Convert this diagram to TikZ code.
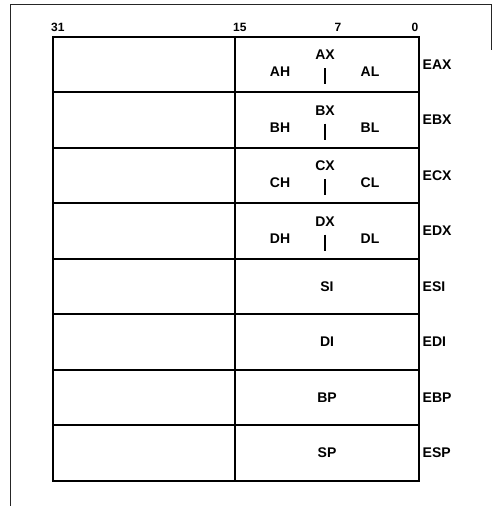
\documentclass[tikz,border=0pt]{standalone}
\usepackage{fontspec}
\setmainfont{Liberation Sans}
\usetikzlibrary{positioning}

\begin{document}
\begin{tikzpicture}[x=1pt, y=-1pt,
    hibox/.style={rectangle, draw, line width=2.4pt, outer sep=0pt, inner sep=0pt,
                  minimum width=182pt, minimum height=55.5pt},
    lobox/.style={hibox, minimum width=184pt},
    reg/.style={font=\fontsize{14}{16}\selectfont\bfseries, inner sep=0pt},
    bitno/.style={font=\fontsize{12}{14}\selectfont\bfseries, inner sep=0pt},
    split/.style={line width=1.6pt},
    frame/.style={line width=0.8pt, draw=black!85}
  ]
  \useasboundingbox (0,0) rectangle (492,506);

  % Page frame
  \coordinate (fbl) at (10,506);
  \coordinate (ftl) at (10,4);
  \coordinate (ftr) at (491,4);
  \coordinate (fr) at (491,50);
  \draw[frame] (fbl) -- (ftl) -- (ftr) -- (fr);

  % Register rows
  \node[hibox] (hiA) at (144,64.5) {};
  \node[lobox, right=0pt of hiA] (loA) {};
  \node[hibox, below=0pt of hiA] (hiB) {};
  \node[lobox, right=0pt of hiB] (loB) {};
  \node[hibox, below=0pt of hiB] (hiC) {};
  \node[lobox, right=0pt of hiC] (loC) {};
  \node[hibox, below=0pt of hiC] (hiD) {};
  \node[lobox, right=0pt of hiD] (loD) {};
  \node[hibox, below=0pt of hiD] (hiSI) {};
  \node[lobox, right=0pt of hiSI] (loSI) {};
  \node[hibox, below=0pt of hiSI] (hiDI) {};
  \node[lobox, right=0pt of hiDI] (loDI) {};
  \node[hibox, below=0pt of hiDI] (hiBP) {};
  \node[lobox, right=0pt of hiBP] (loBP) {};
  \node[hibox, below=0pt of hiBP] (hiSP) {};
  \node[lobox, right=0pt of hiSP] (loSP) {};

  % Bit positions
  \node[bitno, anchor=south west] (b31) at ([xshift=-2pt,yshift=5pt]hiA.north west) {31};
  \node[bitno, anchor=south west] (b15) at ([xshift=-2pt,yshift=5pt]loA.north west) {15};
  \node[bitno, anchor=south] (b7) at ([xshift=11pt,yshift=5pt]loA.north) {7};
  \node[bitno, anchor=south] (b0) at ([xshift=-4pt,yshift=5pt]loA.north east) {0};

  % 16-bit and 8-bit names
  \node[reg] (ax) at ([xshift=-2pt,yshift=9.5pt]loA.center) {AX};
  \node[reg] (ah) at ([xshift=-47pt,yshift=-7.5pt]loA.center) {AH};
  \node[reg] (al) at ([xshift=43pt,yshift=-7.5pt]loA.center) {AL};
  \draw[split] ([xshift=-2pt,yshift=-3.5pt]loA.center) -- ([xshift=-2pt,yshift=-19.5pt]loA.center);

  \node[reg] (bx) at ([xshift=-2pt,yshift=9.5pt]loB.center) {BX};
  \node[reg] (bh) at ([xshift=-47pt,yshift=-7.5pt]loB.center) {BH};
  \node[reg] (bl) at ([xshift=43pt,yshift=-7.5pt]loB.center) {BL};
  \draw[split] ([xshift=-2pt,yshift=-3.5pt]loB.center) -- ([xshift=-2pt,yshift=-19.5pt]loB.center);

  \node[reg] (cx) at ([xshift=-2pt,yshift=9.5pt]loC.center) {CX};
  \node[reg] (ch) at ([xshift=-47pt,yshift=-7.5pt]loC.center) {CH};
  \node[reg] (cl) at ([xshift=43pt,yshift=-7.5pt]loC.center) {CL};
  \draw[split] ([xshift=-2pt,yshift=-3.5pt]loC.center) -- ([xshift=-2pt,yshift=-19.5pt]loC.center);

  \node[reg] (dx) at ([xshift=-2pt,yshift=9.5pt]loD.center) {DX};
  \node[reg] (dh) at ([xshift=-47pt,yshift=-7.5pt]loD.center) {DH};
  \node[reg] (dl) at ([xshift=43pt,yshift=-7.5pt]loD.center) {DL};
  \draw[split] ([xshift=-2pt,yshift=-3.5pt]loD.center) -- ([xshift=-2pt,yshift=-19.5pt]loD.center);

  \node[reg] (si) at (loSI) {SI};
  \node[reg] (di) at (loDI) {DI};
  \node[reg] (bp) at (loBP) {BP};
  \node[reg] (sp) at (loSP) {SP};

  % 32-bit names
  \node[reg, right=3.5pt of loA] (eax) {EAX};
  \node[reg, right=3.5pt of loB] (ebx) {EBX};
  \node[reg, right=3.5pt of loC] (ecx) {ECX};
  \node[reg, right=3.5pt of loD] (edx) {EDX};
  \node[reg, right=3.5pt of loSI] (esi) {ESI};
  \node[reg, right=3.5pt of loDI] (edi) {EDI};
  \node[reg, right=3.5pt of loBP] (ebp) {EBP};
  \node[reg, right=3.5pt of loSP] (esp) {ESP};
\end{tikzpicture}
\end{document}
